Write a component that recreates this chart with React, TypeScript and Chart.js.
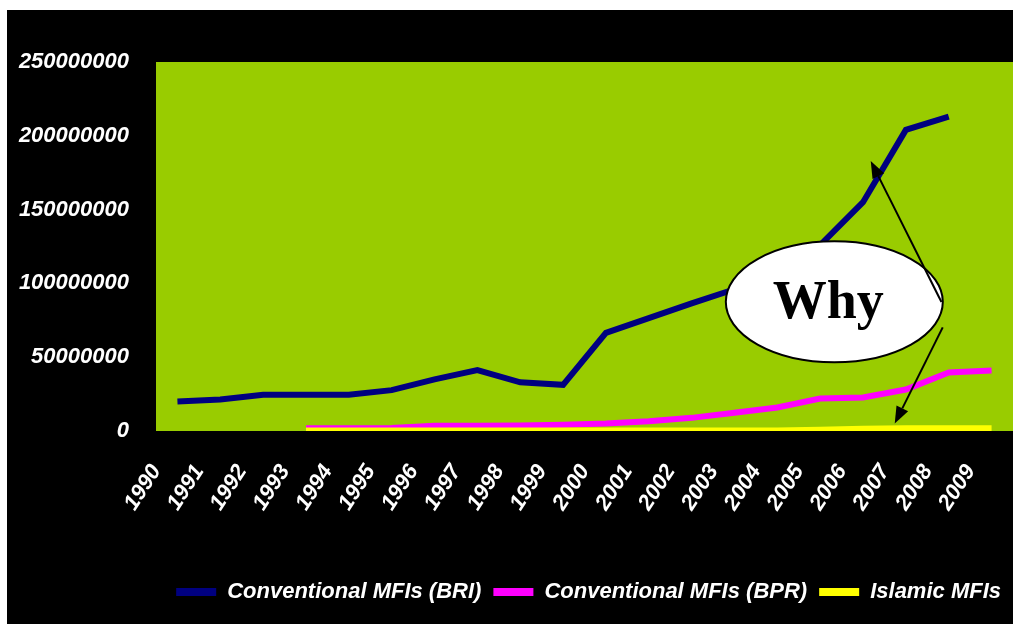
import { useEffect, useRef } from "react";
import { Chart, registerables } from "chart.js";

Chart.register(...registerables);

// Outstanding loans by type of microfinance institution, 1990-2009
const years = [
  "1990", "1991", "1992", "1993", "1994", "1995", "1996", "1997", "1998", "1999",
  "2000", "2001", "2002", "2003", "2004", "2005", "2006", "2007", "2008", "2009",
];

const briValues: (number | null)[] = [
  20.0e6, 21.3e6, 24.5e6, 24.5e6, 24.5e6, 27.7e6, 35.0e6, 41.3e6, 33.0e6, 31.3e6,
  66.5e6, 76.5e6, 86.5e6, 96.0e6, 110.0e6, 126.0e6, 155.0e6, 204.0e6, 213.0e6, null,
];

const bprValues: (number | null)[] = [
  null, null, null, 1.8e6, 1.8e6, 2.0e6, 3.5e6, 3.6e6, 3.8e6, 4.3e6,
  5.1e6, 6.6e6, 8.9e6, 12.3e6, 15.9e6, 22.0e6, 22.7e6, 28.1e6, 39.7e6, 41.0e6,
];

const islamicValues: (number | null)[] = [
  null, null, null, 0.3e6, 0.3e6, 0.3e6, 0.3e6, 0.3e6, 0.3e6, 0.3e6,
  0.3e6, 0.3e6, 0.3e6, 0.3e6, 0.3e6, 0.8e6, 1.5e6, 1.8e6, 1.8e6, 1.8e6,
];

const seriesLabels = [
  "Conventional MFIs (BRI)",
  "Conventional MFIs (BPR)",
  "Islamic MFIs",
];
const seriesColors = ["#000080", "#FF00FF", "#FFFF00"];

const Y_MIN = 0;
const Y_MAX = 250000000;
const Y_STEP = 50000000;

// Callout bubble and its two pointers, placed in data space (category index, value)
const calloutText = "Why";
const calloutCenter = { x: 15.33, y: 87.5e6 };
const calloutArrows = [
  { from: { x: 17.83, y: 87.4e6 }, to: { x: 16.18, y: 183e6 } },
  { from: { x: 17.86, y: 70.2e6 }, to: { x: 16.74, y: 5.0e6 } },
];

const PLOT_BG = "#99CC00";
const TEXT_FONT = "'Liberation Sans', Arial, sans-serif";
const TEXT_SIZE = 22;

const plotBackground = {
  id: "plotBackground",
  beforeDatasetsDraw(chart: any) {
    const { ctx, chartArea } = chart;
    ctx.save();
    ctx.fillStyle = PLOT_BG;
    ctx.fillRect(chartArea.left, chartArea.top, chartArea.right - chartArea.left, chartArea.bottom - chartArea.top);
    ctx.restore();
  },
};

function drawArrow(ctx: CanvasRenderingContext2D, x1: number, y1: number, x2: number, y2: number) {
  const angle = Math.atan2(y2 - y1, x2 - x1);
  const headLen = 17;
  const headHalf = 6.5;
  const bx = x2 - headLen * Math.cos(angle);
  const by = y2 - headLen * Math.sin(angle);
  ctx.beginPath();
  ctx.moveTo(x1, y1);
  ctx.lineTo(bx, by);
  ctx.stroke();
  ctx.beginPath();
  ctx.moveTo(x2, y2);
  ctx.lineTo(bx + headHalf * Math.sin(angle), by - headHalf * Math.cos(angle));
  ctx.lineTo(bx - headHalf * Math.sin(angle), by + headHalf * Math.cos(angle));
  ctx.closePath();
  ctx.fill();
}

const callout = {
  id: "callout",
  afterDatasetsDraw(chart: any) {
    const { ctx } = chart;
    const xs = chart.scales.x;
    const ys = chart.scales.y;
    const cx = xs.getPixelForValue(calloutCenter.x);
    const cy = ys.getPixelForValue(calloutCenter.y);
    ctx.save();
    ctx.beginPath();
    ctx.ellipse(cx, cy, 108.5, 60.5, 0, 0, Math.PI * 2);
    ctx.fillStyle = "#FFFFFF";
    ctx.fill();
    ctx.lineWidth = 2;
    ctx.strokeStyle = "#000000";
    ctx.stroke();

    ctx.fillStyle = "#000000";
    ctx.font = "bold 54px 'Liberation Serif', 'Times New Roman', serif";
    ctx.textAlign = "center";
    ctx.textBaseline = "alphabetic";
    ctx.fillText(calloutText, cx - 6, cy + 16.5);

    ctx.lineWidth = 2;
    for (const a of calloutArrows) {
      drawArrow(
        ctx,
        xs.getPixelForValue(a.from.x),
        ys.getPixelForValue(a.from.y),
        xs.getPixelForValue(a.to.x),
        ys.getPixelForValue(a.to.y)
      );
    }
    ctx.restore();
  },
};

export default function App() {
  const canvasRef = useRef<HTMLCanvasElement | null>(null);

  useEffect(() => {
    if (!canvasRef.current) return;
    const seriesData = [briValues, bprValues, islamicValues];
    const labelFont = { family: TEXT_FONT, size: TEXT_SIZE, style: "italic" as const, weight: "bold" as const };
    const chart = new Chart(canvasRef.current, {
      type: "line",
      data: {
        labels: years,
        datasets: seriesData.map((values, i) => ({
          label: seriesLabels[i],
          data: values,
          borderColor: seriesColors[i],
          backgroundColor: seriesColors[i],
          borderWidth: 6,
          pointRadius: 0,
          pointHoverRadius: 0,
          tension: 0,
          fill: false,
          clip: 0,
          spanGaps: false,
          order: 3 - i,
        })),
      },
      options: {
        animation: false,
        responsive: true,
        maintainAspectRatio: false,
        layout: { padding: { top: 52, right: 0, bottom: 11, left: 0 } },
        plugins: {
          tooltip: { enabled: false },
          legend: {
            position: "bottom",
            align: "end",
            labels: {
              color: "#FFFFFF",
              font: labelFont,
              usePointStyle: true,
              pointStyle: "line",
              pointStyleWidth: 40,
              padding: 12,
              sort: (a: any, b: any) => a.datasetIndex - b.datasetIndex,
              generateLabels: (c: any) => {
                const items = Chart.defaults.plugins.legend.labels.generateLabels(c);
                items.forEach((it: any) => {
                  it.lineWidth = 8;
                  it.strokeStyle = seriesColors[it.datasetIndex];
                });
                return items;
              },
            },
          },
        },
        scales: {
          x: {
            type: "category",
            offset: true,
            grid: { display: false },
            border: { display: false },
            ticks: {
              color: "#FFFFFF",
              font: labelFont,
              autoSkip: false,
              maxRotation: 57,
              minRotation: 57,
              labelOffset: -21,
              padding: 21,
            },
            afterFit: (scale: any) => {
              scale.height = 138;
              scale.paddingLeft = 0;
              scale.paddingRight = 0;
            },
          },
          y: {
            min: Y_MIN,
            max: Y_MAX,
            grid: { display: false },
            border: { display: false },
            ticks: {
              stepSize: Y_STEP,
              color: "#FFFFFF",
              font: labelFont,
              padding: 19,
              callback: (v: any) => String(v),
            },
            afterFit: (scale: any) => {
              scale.width = 149;
            },
          },
        },
      },
      plugins: [plotBackground, callout],
    });
    return () => chart.destroy();
  }, []);

  return (
    <div
      style={{
        position: "fixed",
        left: 7,
        top: 10,
        width: 1006,
        height: 614,
        background: "#000000",
      }}
    >
      <canvas ref={canvasRef} />
    </div>
  );
}
